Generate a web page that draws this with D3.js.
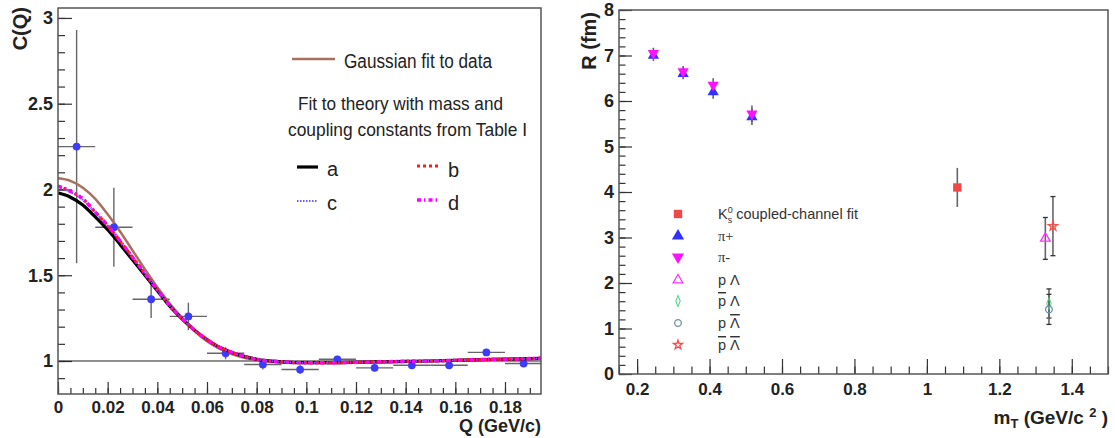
<!DOCTYPE html>
<html><head><meta charset="utf-8">
<script src="https://cdn.jsdelivr.net/npm/d3@7"></script>
<style>body{margin:0;background:#fff} svg{display:block}</style>
</head><body>
<svg id="c" width="1115" height="438"></svg>
<script>
// ---------------- LEFT PANEL DATA ----------------
const qCenters = [0.0075,0.0225,0.0375,0.0525,0.0675,0.0825,0.0975,0.1125,0.1275,0.1425,0.1575,0.1725,0.1875];
const cValues  = [2.25,1.78,1.36,1.26,1.045,0.98,0.95,1.01,0.96,0.975,0.975,1.05,0.985];
const cErrors  = [0.68,0.23,0.11,0.08,0.035,0.03,0.025,0.02,0.02,0.02,0.02,0.02,0.02];
const qHalfBin = [0.0075,0.0075,0.0075,0.0075,0.0075,0.0075,0.0075,0.0075,0.0075,0.0075,0.0075,0.0075,0.0075];

const curveQ   = [0,0.005,0.01,0.015,0.02,0.025,0.03,0.035,0.04,0.045,0.05,0.055,0.06,0.065,0.07,0.075,0.08,0.09,0.1,0.11,0.12,0.13,0.14,0.15,0.16,0.17,0.18,0.19,0.1945];
const gaussFit = [2.065,2.05,2.01,1.945,1.855,1.755,1.645,1.535,1.43,1.335,1.25,1.175,1.115,1.072,1.04,1.018,1.004,0.992,0.988,0.988,0.99,0.993,0.996,1.0,1.003,1.006,1.009,1.012,1.013];
const theoryA  = [1.98,1.955,1.91,1.84,1.765,1.68,1.59,1.50,1.41,1.32,1.245,1.18,1.125,1.08,1.05,1.027,1.01,0.995,0.99,0.99,0.992,0.995,0.998,1.0,1.004,1.008,1.011,1.014,1.016];
const theoryB  = [2.02,1.99,1.945,1.868,1.79,1.70,1.605,1.51,1.415,1.322,1.246,1.18,1.125,1.08,1.05,1.027,1.01,0.995,0.99,0.99,0.992,0.995,0.998,1.0,1.004,1.008,1.011,1.014,1.016];
const theoryC  = [2.015,1.985,1.94,1.865,1.788,1.70,1.605,1.51,1.415,1.322,1.246,1.18,1.125,1.08,1.05,1.027,1.01,0.995,0.99,0.99,0.992,0.995,0.998,1.0,1.004,1.008,1.011,1.014,1.016];
const theoryD  = [2.02,1.99,1.945,1.868,1.79,1.70,1.605,1.51,1.415,1.322,1.246,1.18,1.125,1.08,1.05,1.027,1.01,0.995,0.99,0.99,0.992,0.995,0.998,1.0,1.004,1.008,1.011,1.014,1.016];

const qTicks = [0,0.02,0.04,0.06,0.08,0.1,0.12,0.14,0.16,0.18];
const qTickLabels = ["0","0.02","0.04","0.06","0.08","0.1","0.12","0.14","0.16","0.18"];
const cTicks = [1,1.5,2,2.5,3];
const cTickLabels = ["1","1.5","2","2.5","3"];

// ---------------- RIGHT PANEL DATA ----------------
const pionMt     = [0.245,0.327,0.41,0.517];
const piPlusR    = [7.0,6.6,6.2,5.65];
const piPlusErr  = [0.12,0.12,0.15,0.18];
const piMinusR   = [7.05,6.65,6.35,5.72];
const piMinusErr = [0.12,0.12,0.15,0.18];
const k0Mt = [1.084], k0R = [4.1], k0Err = [0.43];
const pLamMt = [1.327], pLamR = [2.98], pLamErr = [0.46];
const pbLamMt = [1.337], pbLamR = [1.55], pbLamErr = [0.32];
const pLambMt = [1.337], pLambR = [1.42], pLambErr = [0.33];
const pbLambMt = [1.348], pbLambR = [3.25], pbLambErr = [0.65];

const mtTicks = [0.2,0.4,0.6,0.8,1,1.2,1.4];
const mtTickLabels = ["0.2","0.4","0.6","0.8","1","1.2","1.4"];
const rTicks = [0,1,2,3,4,5,6,7,8];
const rTickLabels = ["0","1","2","3","4","5","6","7","8"];

// ---------------- DRAWING ----------------
const svg = d3.select('#c');
const FN = "'Liberation Sans Narrow','Arial Narrow','Liberation Sans',Arial,sans-serif";
const FR = "'Liberation Sans',Arial,sans-serif";
const FS = "'Liberation Serif','Times New Roman',serif";

function styleAxis(g, fs){
  g.select('.domain').remove();
  g.selectAll('.tick line').attr('stroke','#333').attr('stroke-width',1.2);
  g.selectAll('.tick text').attr('fill','#222').style('font-family',FN).style('font-weight','bold').style('font-size',fs+'px');
}

// ===== LEFT =====
const L = {x0:58,x1:541,y0:8,y1:394};
const xL = d3.scaleLinear().domain([0,0.1945]).range([L.x0,L.x1]);
const yL = d3.scaleLinear().domain([0.8076,3.058]).range([L.y1,L.y0]);

svg.append('clipPath').attr('id','clipL').append('rect')
  .attr('x',L.x0).attr('y',L.y0).attr('width',L.x1-L.x0).attr('height',L.y1-L.y0);

const qMinor = d3.range(0,40).map(i=>i*0.005).filter(v=>v<=0.1945);
const cMinor = d3.range(9,31).map(i=>i/10);
styleAxis(svg.append('g').attr('transform',`translate(0,${L.y1})`)
  .call(d3.axisBottom(xL).tickValues(qMinor).tickSize(-6).tickFormat('')),17);
styleAxis(svg.append('g').attr('transform',`translate(0,${L.y1})`)
  .call(d3.axisBottom(xL).tickValues(qTicks).tickSize(-12).tickPadding(7).tickFormat((d,i)=>qTickLabels[i])),17);
styleAxis(svg.append('g').attr('transform',`translate(${L.x0},0)`)
  .call(d3.axisLeft(yL).tickValues(cMinor).tickSize(-7).tickFormat('')),17);
styleAxis(svg.append('g').attr('transform',`translate(${L.x0},0)`)
  .call(d3.axisLeft(yL).tickValues(cTicks).tickSize(-14).tickPadding(5).tickFormat((d,i)=>cTickLabels[i])),18);

// line at C=1
svg.append('line').attr('x1',L.x0).attr('x2',L.x1).attr('y1',yL(1)).attr('y2',yL(1))
  .attr('stroke','#222').attr('stroke-width',1);

const plotL = svg.append('g').attr('clip-path','url(#clipL)');
const line = (arr)=> d3.line().x((d,i)=>xL(curveQ[i])).y((d,i)=>yL(arr[i])).curve(d3.curveMonotoneX)(arr);

// data error bars
qCenters.forEach((q,i)=>{
  plotL.append('line').attr('x1',xL(q)).attr('x2',xL(q)).attr('y1',yL(cValues[i]-cErrors[i])).attr('y2',yL(cValues[i]+cErrors[i]))
    .attr('stroke','#666').attr('stroke-width',1.4);
  plotL.append('line').attr('x1',xL(q-qHalfBin[i])).attr('x2',xL(q+qHalfBin[i])).attr('y1',yL(cValues[i])).attr('y2',yL(cValues[i]))
    .attr('stroke','#666').attr('stroke-width',1.4);
});

// curves
plotL.append('path').attr('d',line(gaussFit)).attr('fill','none').attr('stroke','#a8715e').attr('stroke-width',2.5);
qCenters.forEach((q,i)=>{
  plotL.append('circle').attr('cx',xL(q)).attr('cy',yL(cValues[i])).attr('r',3.9).attr('fill','#3c3cff');
});
plotL.append('path').attr('d',line(theoryA)).attr('fill','none').attr('stroke','#000').attr('stroke-width',3.2);
plotL.append('path').attr('d',line(theoryC)).attr('fill','none').attr('stroke','#6a5cff').attr('stroke-width',2).attr('stroke-dasharray','1.5,1.5');
plotL.append('path').attr('d',line(theoryB)).attr('fill','none').attr('stroke','#ff1a1a').attr('stroke-width',3).attr('stroke-dasharray','3,3');
plotL.append('path').attr('d',line(theoryD)).attr('fill','none').attr('stroke','#ff00ff').attr('stroke-width',3.5).attr('stroke-dasharray','4,3,1.5,3');

// frame
svg.append('rect').attr('x',L.x0).attr('y',L.y0).attr('width',L.x1-L.x0).attr('height',L.y1-L.y0)
  .attr('fill','none').attr('stroke','#555').attr('stroke-width',1.5);

// axis titles
svg.append('text').attr('transform','translate(27,7) rotate(-90)').attr('text-anchor','end')
  .style('font-family',FR).style('font-weight','bold').style('font-size','20px').attr('fill','#222').text('C(Q)');
svg.append('text').attr('x',L.x1).attr('y',432).attr('text-anchor','end')
  .style('font-family',FN).style('font-weight','bold').style('font-size','18px').attr('fill','#222').text('Q (GeV/c)');

// legend left
svg.append('line').attr('x1',292).attr('x2',335).attr('y1',59).attr('y2',59).attr('stroke','#a8715e').attr('stroke-width',2.5);
function ltext(x,y,t,fs,len){
  const e = svg.append('text').attr('x',x).attr('y',y).style('font-family',FN).style('font-size',fs+'px').attr('fill','#222').text(t);
  if(len) e.attr('textLength',len).attr('lengthAdjust','spacingAndGlyphs');
  return e;
}
ltext(344,68,'Gaussian fit to data',20,148);
ltext(298,110,'Fit to theory with mass and',19,205);
ltext(288,136,'coupling constants from Table I',19,239);
svg.append('line').attr('x1',297).attr('x2',318).attr('y1',167).attr('y2',167).attr('stroke','#000').attr('stroke-width',3.2);
ltext(327,176,'a',20);
svg.append('line').attr('x1',417).attr('x2',440).attr('y1',166).attr('y2',166).attr('stroke','#ff1a1a').attr('stroke-width',3).attr('stroke-dasharray','3,3');
ltext(448,177,'b',20);
svg.append('line').attr('x1',297).attr('x2',318).attr('y1',201).attr('y2',201).attr('stroke','#6a5cff').attr('stroke-width',2).attr('stroke-dasharray','1.5,1.5');
ltext(327,210,'c',20);
svg.append('line').attr('x1',417).attr('x2',440).attr('y1',200).attr('y2',200).attr('stroke','#ff00ff').attr('stroke-width',3.5).attr('stroke-dasharray','4,3,1.5,3');
ltext(448,210,'d',20);

// ===== RIGHT =====
const R = {x0:619,x1:1108,y0:10,y1:374};
const xR = d3.scaleLinear().domain([0.15,1.5]).range([R.x0,R.x1]);
const yR = d3.scaleLinear().domain([0,8]).range([R.y1,R.y0]);

const mtMinor = d3.range(3,31).map(i=>i*0.05).filter(v=>v<=1.5001);
const rMinor = d3.range(0,41).map(i=>i*0.2);
styleAxis(svg.append('g').attr('transform',`translate(0,${R.y1})`)
  .call(d3.axisBottom(xR).tickValues(mtMinor).tickSize(-7.5).tickFormat('')),17);
styleAxis(svg.append('g').attr('transform',`translate(0,${R.y1})`)
  .call(d3.axisBottom(xR).tickValues(mtTicks).tickSize(-15).tickPadding(9).tickFormat((d,i)=>mtTickLabels[i])),17);
styleAxis(svg.append('g').attr('transform',`translate(${R.x0},0)`)
  .call(d3.axisLeft(yR).tickValues(rMinor).tickSize(-6.5).tickFormat('')),17);
styleAxis(svg.append('g').attr('transform',`translate(${R.x0},0)`)
  .call(d3.axisLeft(yR).tickValues(rTicks).tickSize(-13).tickPadding(5).tickFormat((d,i)=>rTickLabels[i])),18);

svg.append('rect').attr('x',R.x0).attr('y',R.y0).attr('width',R.x1-R.x0).attr('height',R.y1-R.y0)
  .attr('fill','none').attr('stroke','#555').attr('stroke-width',1.5);

const plotR = svg.append('g');
function errbar(xs,ys,es,cap){
  xs.forEach((x,i)=>{
    const X = xR(x);
    plotR.append('line').attr('x1',X).attr('x2',X).attr('y1',yR(ys[i]-es[i])).attr('y2',yR(ys[i]+es[i]))
      .attr('stroke','#666').attr('stroke-width',1.6);
    if(cap){
      [ys[i]-es[i],ys[i]+es[i]].forEach(v=>{
        plotR.append('line').attr('x1',X-2.5).attr('x2',X+2.5).attr('y1',yR(v)).attr('y2',yR(v)).attr('stroke','#333').attr('stroke-width',1.3);
      });
    }
  });
}
function markers(g,xs,ys,type,size,fill,stroke,rot,sx){
  xs.forEach((x,i)=>{
    g.append('path').attr('d',d3.symbol().type(type).size(size)())
      .attr('transform',`translate(${xR(x)},${yR(ys[i])}) rotate(${rot||0}) scale(${sx||1},1)`)
      .attr('fill',fill).attr('stroke',stroke||'none').attr('stroke-width',1.3);
  });
}
errbar(pionMt,piPlusR,piPlusErr,false);
errbar(pionMt,piMinusR,piMinusErr,false);
errbar(k0Mt,k0R,k0Err,false);
errbar(pLamMt,pLamR,pLamErr,true);
errbar(pbLambMt,pbLambR,pbLambErr,true);
errbar(pbLamMt,pbLamR,pbLamErr,true);
errbar(pLambMt,pLambR,pLambErr,true);

markers(plotR,pionMt,piPlusR,d3.symbolTriangle,55,'#3030ff');
markers(plotR,pionMt,piMinusR,d3.symbolTriangle,55,'#ff10ff',null,180);
markers(plotR,k0Mt,k0R,d3.symbolSquare,70,'#f04848');
markers(plotR,pLamMt,pLamR,d3.symbolTriangle,40,'none','#ff30ff');
markers(plotR,pbLamMt,pbLamR,d3.symbolDiamond,35,'none','#3ad67a',0,0.7);
markers(plotR,pLambMt,pLambR,d3.symbolCircle,35,'none','#6f8fa8');
markers(plotR,pbLambMt,pbLambR,d3.symbolStar,26,'none','#ff4a4a');

// axis titles right
svg.append('text').attr('transform','translate(596,12) rotate(-90)').attr('text-anchor','end')
  .style('font-family',FR).style('font-weight','bold').style('font-size','20px').attr('fill','#222').text('R (fm)');
const mtT = svg.append('text').attr('x',R.x1).attr('y',424).attr('text-anchor','end')
  .style('font-family',FN).style('font-weight','bold').style('font-size','19px').attr('fill','#222');
mtT.append('tspan').text('m');
mtT.append('tspan').attr('dy',4).style('font-size','13px').text('T');
mtT.append('tspan').attr('dy',-4).text(' (GeV/c  ');
mtT.append('tspan').attr('dy',-7).style('font-size','13px').text('2');
mtT.append('tspan').attr('dy',7).text(' )');

// legend right
const legX = 678, legTX = 718;
const legY = [214,236,257,280,301,323,345];
const lg = svg.append('g');
function legMarker(y,type,size,fill,stroke,rot,sx){
  lg.append('path').attr('d',d3.symbol().type(type).size(size)())
    .attr('transform',`translate(${legX},${y}) rotate(${rot||0}) scale(${sx||1},1)`)
    .attr('fill',fill).attr('stroke',stroke||'none').attr('stroke-width',1.3);
}
legMarker(legY[0],d3.symbolSquare,70,'#f04848');
legMarker(legY[1],d3.symbolTriangle,65,'#3030ff');
legMarker(legY[2],d3.symbolTriangle,65,'#ff10ff',null,180);
legMarker(legY[3],d3.symbolTriangle,40,'none','#ff30ff');
legMarker(legY[4],d3.symbolDiamond,35,'none','#3ad67a',0,0.7);
legMarker(legY[5],d3.symbolCircle,35,'none','#6f8fa8');
legMarker(legY[6],d3.symbolStar,26,'none','#ff4a4a');

function lt(i){ return lg.append('text').attr('x',legTX).attr('y',legY[i]+5).style('font-family',FN).style('font-size','14.5px').attr('fill','#333'); }
let t0 = lt(0);
t0.append('tspan').text('K');
t0.append('tspan').attr('dy',-6).style('font-size','9px').text('0');
t0.append('tspan').attr('dx',-5).attr('dy',10).style('font-size','9px').text('s');
t0.append('tspan').attr('dy',-4).text(' coupled-channel fit');
lt(1).style('font-family',FS).text('π+');
lt(2).style('font-family',FS).text('π-');
let t3 = lt(3); t3.append('tspan').text('p Λ');
let t4 = lt(4); t4.append('tspan').style('text-decoration','overline').text('p'); t4.append('tspan').text(' Λ');
let t5 = lt(5); t5.append('tspan').text('p '); t5.append('tspan').style('text-decoration','overline').text('Λ');
let t6 = lt(6); t6.append('tspan').style('text-decoration','overline').text('p'); t6.append('tspan').text(' '); t6.append('tspan').style('text-decoration','overline').text('Λ');
</script>
</body></html>
